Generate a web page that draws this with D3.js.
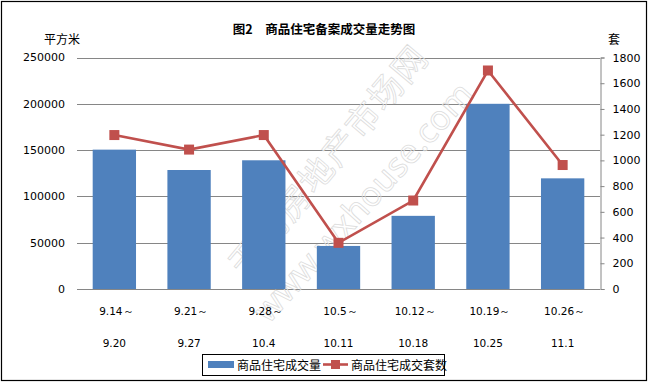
<!DOCTYPE html>
<html><head><meta charset="utf-8">
<script src="https://cdn.jsdelivr.net/npm/d3@7"></script>
<style>body{margin:0;background:#fff}svg{display:block}</style>
</head><body>
<script>
const categoriesTop = ["9.14～","9.21～","9.28～","10.5～","10.12～","10.19～","10.26～"];
const categoriesBottom = ["9.20","9.27","10.4","10.11","10.18","10.25","11.1"];
const areaValues = [150500, 128500, 139000, 46500, 79000, 200000, 119500];
const unitValues = [1197, 1084, 1197, 359, 688, 1699, 964];
const leftTicks = [0, 50000, 100000, 150000, 200000, 250000];
const rightTicks = [0, 200, 400, 600, 800, 1000, 1200, 1400, 1600, 1800];
const seriesNames = ["商品住宅成交量", "商品住宅成交套数"];

const W = 651, H = 384;
const cjk = "'Noto Sans CJK SC', sans-serif";
const num = "'DejaVu Sans', sans-serif";
const svg = d3.select("body").append("svg").attr("width", W).attr("height", H);

svg.append("rect").attr("x",1.5).attr("y",1.5).attr("width",645).attr("height",379)
  .attr("fill","#fff").attr("stroke","#000").attr("stroke-width",1.2);

const L = 77, R = 600, T = 57.5, B = 289;
const x = d3.scaleBand().domain(d3.range(7)).range([L, R]).paddingInner(0.42).paddingOuter(0.21);
const xc = d3.scaleBand().domain(d3.range(7)).range([L, R]);
const yL = d3.scaleLinear().domain([0, 250000]).range([B, T]);
const yR = d3.scaleLinear().domain([0, 1800]).range([B, T]);

// gridlines
svg.append("g").selectAll("line").data(leftTicks).join("line")
  .attr("x1", L).attr("x2", R).attr("y1", d => Math.round(yL(d))+0.5).attr("y2", d => Math.round(yL(d))+0.5)
  .attr("stroke", "#868686").attr("stroke-width", 1);

// left tick labels
svg.append("g").selectAll("text").data(leftTicks).join("text")
  .attr("x", 65).attr("y", d => yL(d)).attr("dy", "0.35em").attr("text-anchor", "end")
  .attr("font-family", num).attr("font-size", 11).attr("fill", "#000").text(d => d);

// right axis
const ra = svg.append("g").attr("transform", `translate(${R+0.5},0)`)
  .call(d3.axisRight(yR).tickValues(rightTicks).tickSize(4).tickPadding(8).tickFormat(d3.format("d")));
ra.select(".domain").attr("stroke", "#868686");
ra.selectAll(".tick line").attr("stroke", "#868686");
ra.selectAll(".tick text").attr("font-family", num).attr("font-size", 11).attr("fill", "#000");

// watermark
const wm = svg.append("g").attr("fill", "none").attr("stroke", "#dcdcdc").attr("stroke-width", 0.8);
wm.append("text").attr("transform", "translate(338,168) rotate(-50)").attr("text-anchor", "middle")
  .attr("font-family", cjk).attr("font-size", 34).attr("letter-spacing", 2).text("无锡房地产市场网");
wm.append("text").attr("transform", "translate(372,210) rotate(-48)").attr("text-anchor", "middle")
  .attr("font-family", "'Noto Sans', sans-serif").attr("font-size", 34).text("www.wxhouse.com");

// bars
svg.append("g").selectAll("rect").data(areaValues).join("rect")
  .attr("x", (d,i) => x(i)).attr("width", x.bandwidth())
  .attr("y", d => yL(d)).attr("height", d => B - yL(d)).attr("fill", "#4F81BD");

// line
const cx = i => xc(i) + xc.bandwidth()/2;
svg.append("path").datum(unitValues)
  .attr("d", d3.line().x((d,i) => cx(i)).y(d => yR(d)))
  .attr("fill", "none").attr("stroke", "#C0504D").attr("stroke-width", 2.6);
svg.append("g").selectAll("rect").data(unitValues).join("rect")
  .attr("x", (d,i) => cx(i) - 5).attr("y", d => yR(d) - 5).attr("width", 10).attr("height", 10)
  .attr("fill", "#C0504D");

// x labels
svg.append("g").selectAll("text").data(categoriesTop).join("text")
  .attr("x", (d,i) => cx(i) + 2).attr("y", 315).attr("text-anchor", "middle")
  .attr("font-family", num).attr("font-size", 10.5).text(d => d);
svg.append("g").selectAll("text").data(categoriesBottom).join("text")
  .attr("x", (d,i) => cx(i)).attr("y", 347).attr("text-anchor", "middle")
  .attr("font-family", num).attr("font-size", 10.5).text(d => d);

// titles
svg.append("text").attr("x", 324).attr("y", 34).attr("text-anchor", "middle")
  .attr("font-family", cjk).attr("font-weight", "bold").attr("font-size", 12.5).text("图2　商品住宅备案成交量走势图");
svg.append("text").attr("x", 62).attr("y", 44).attr("text-anchor", "middle")
  .attr("font-family", cjk).attr("font-size", 12).text("平方米");
svg.append("text").attr("x", 614).attr("y", 44).attr("text-anchor", "middle")
  .attr("font-family", cjk).attr("font-size", 12).text("套");

// legend
const lg = svg.append("g");
lg.append("rect").attr("x", 202.5).attr("y", 354.5).attr("width", 242).attr("height", 21)
  .attr("fill", "#fff").attr("stroke", "#000").attr("stroke-width", 1);
lg.append("rect").attr("x", 208).attr("y", 361).attr("width", 26).attr("height", 7).attr("fill", "#4F81BD");
lg.append("text").attr("x", 237).attr("y", 369.5).attr("font-family", cjk).attr("font-size", 12).text(seriesNames[0]);
lg.append("line").attr("x1", 323).attr("x2", 348).attr("y1", 364.5).attr("y2", 364.5)
  .attr("stroke", "#C0504D").attr("stroke-width", 2.6);
lg.append("rect").attr("x", 331).attr("y", 360).attr("width", 9).attr("height", 9).attr("fill", "#C0504D");
lg.append("text").attr("x", 351).attr("y", 369.5).attr("font-family", cjk).attr("font-size", 12).text(seriesNames[1]);
</script>
</body></html>
